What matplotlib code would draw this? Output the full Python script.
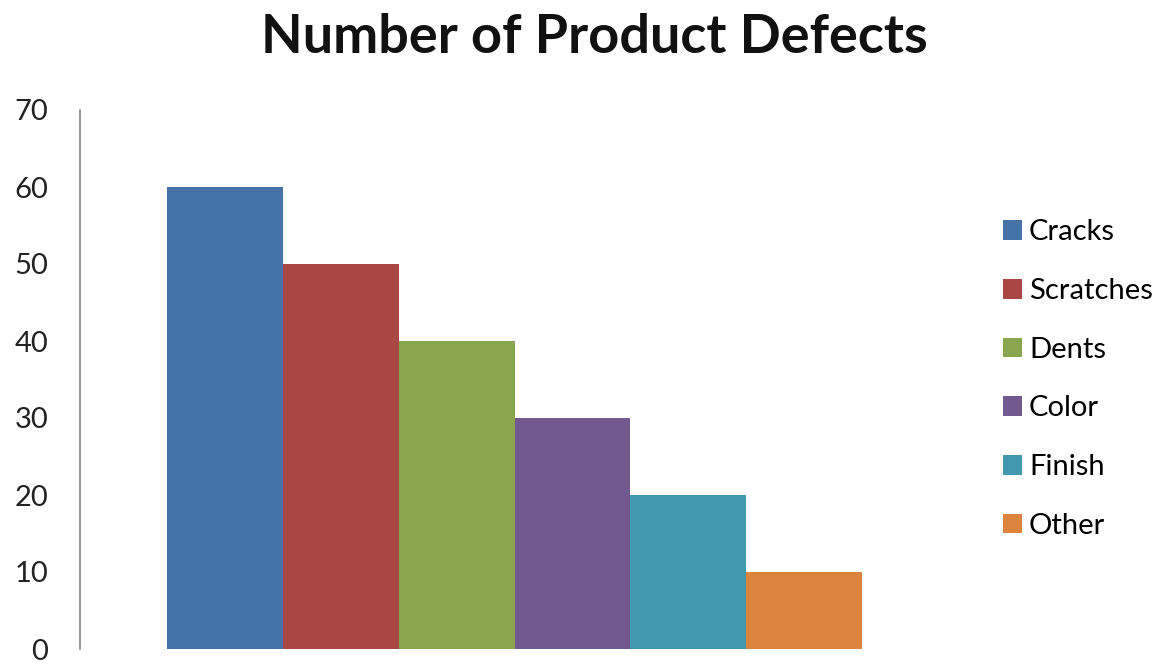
import numpy as np
import matplotlib.pyplot as plt

categories = ["Cracks", "Scratches", "Dents", "Color", "Finish", "Other"]
defects = [60, 50, 40, 30, 20, 10]
colors = ["#4572A7", "#AA4643", "#89A54E", "#71588F", "#4198AF", "#DB843D"]
yticks = [0, 10, 20, 30, 40, 50, 60, 70]

plt.rcParams["font.family"] = ["Lato", "DejaVu Sans"]

fig = plt.figure(figsize=(11.63, 6.64), dpi=100)
ax = fig.add_axes([80 / 1163, 15 / 664, (949 - 80) / 1163, (649 - 110) / 664])

x = np.arange(len(categories))
for i in range(len(categories)):
    ax.bar(x[i], defects[i], width=1.0, color=colors[i], label=categories[i])

ax.set_xlim(-1.25, 6.25)
ax.set_ylim(0, 70)
ax.set_yticks(yticks)
ax.set_xticks([])
ax.tick_params(axis="y", length=0, pad=23, labelsize=21, labelcolor="#222222")
for s in ["top", "right", "bottom"]:
    ax.spines[s].set_visible(False)
ax.spines["left"].set_color("#888888")
ax.spines["left"].set_linewidth(1.2)

fig.text(0.511, 0.943, "Number of Product Defects", ha="center", va="center",
         fontsize=39, fontweight="bold", color="#111111")

ax.legend(loc="center left", bbox_to_anchor=(0.862, 0.429), bbox_transform=fig.transFigure,
          frameon=False, fontsize=21, handlelength=0.66, handleheight=0.66,
          handletextpad=0.25, labelspacing=1.12, borderpad=0, borderaxespad=0)

plt.savefig("out.png", dpi=100)
